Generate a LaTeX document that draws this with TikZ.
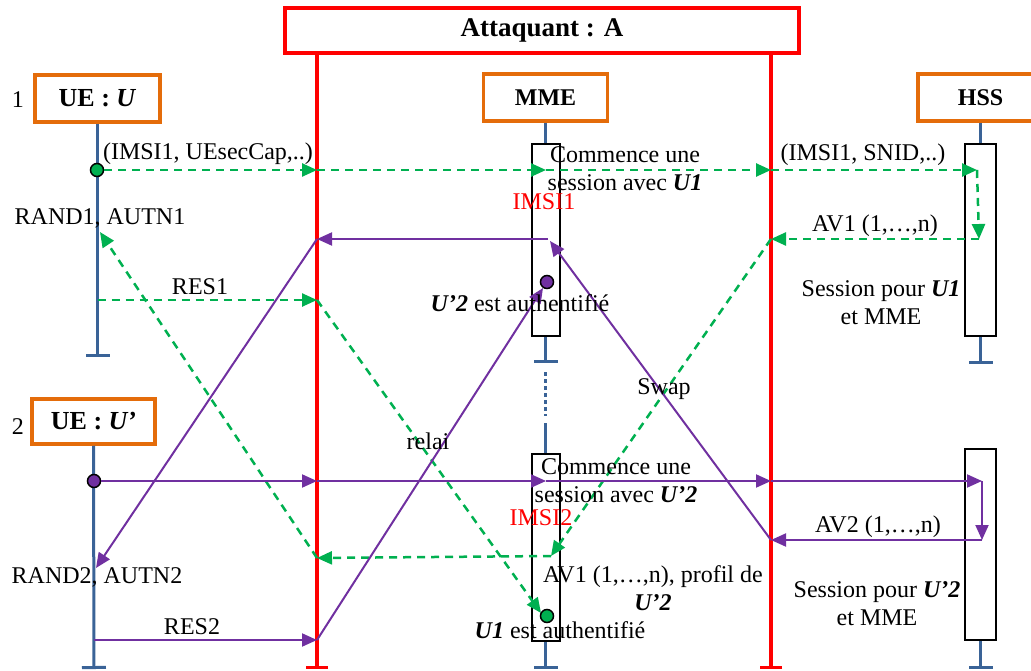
\documentclass[tikz,border=0pt]{standalone}
\usepackage{fontspec}
\setmainfont{Liberation Serif}
\usetikzlibrary{arrows.meta}
\definecolor{boxorange}{HTML}{E46C0A}
\definecolor{lifeblue}{HTML}{3A6397}
\definecolor{msggreen}{HTML}{00B050}
\definecolor{msgpurple}{HTML}{7030A0}
\newcommand{\usr}[1]{\textbf{\textit{#1}}}

\tikzset{
  actor/.style={draw=boxorange, line width=3.5pt, minimum height=47, inner sep=0pt, font=\fontsize{24}{28}\selectfont\bfseries},
  attbox/.style={draw=red, line width=3.5pt, minimum width=514, minimum height=45, inner sep=0pt, font=\fontsize{27}{30}\selectfont\bfseries},
  lifeline/.style={draw=lifeblue, line width=3pt},
  attline/.style={draw=red, line width=3.5pt, -{Bar[width=22pt]}},
  actbox/.style={draw=black, line width=2pt, fill=white, inner sep=0pt},
  msgG/.style={draw=msggreen, line width=2.5pt, dash pattern=on 8pt off 6pt, -{Triangle[length=15pt,width=13pt]}},
  msgP/.style={draw=msgpurple, line width=2pt, -{Triangle[length=15pt,width=13pt]}},
  dot/.style={circle, draw=black, line width=1.5pt, minimum size=13, inner sep=0pt},
  lbl/.style={inner sep=0pt, align=center}
}

\begin{document}
\begin{tikzpicture}[x=1pt, y=-1pt, font=\fontsize{24}{28}\selectfont]
  \useasboundingbox (0,0) rectangle (1031,671);

  % Actors
  \node[attbox] (att) at (542,30.5) {Attaquant : A};
  \node[actor, minimum width=125, font=\fontsize{26}{28}\selectfont\bfseries] (ue1) at (97.5,98.5) {UE : \textit{U}};
  \node[actor, minimum width=124] (mme) at (545.5,97.5) {MME};
  \node[actor, minimum width=125] (hss) at (980.5,97.5) {HSS};
  \node[actor, minimum width=123, minimum height=45, font=\fontsize{26}{28}\selectfont\bfseries] (ue2) at (93.5,421.5) {UE : \textit{U’}};
  \node[lbl] (n1) at (18,100) {1};
  \node[lbl] (n2) at (18,427) {2};

  % Lifelines
  \coordinate (ue1end) at (97.5,357);
  \coordinate (ue2end) at (94,669);
  \draw[lifeline, -{Bar[width=24pt]}] (ue1.south) -- (ue1end);
  \draw[lifeline, -{Bar[width=24pt]}] (ue2.south) -- (ue2end);

  \node[actbox, minimum width=28, minimum height=192] (mmeA) at (545.5,240) {};
  \node[actbox, minimum width=28, minimum height=187] (mmeB) at (545.5,547.5) {};
  \node[actbox, minimum width=31, minimum height=192] (hssA) at (980.5,240) {};
  \node[actbox, minimum width=31, minimum height=191] (hssB) at (980.5,544.5) {};
  \coordinate (mmeEnd1) at (545.5,363);
  \coordinate (mmeDot1) at (545.5,372);
  \coordinate (mmeDot2) at (545.5,416);
  \coordinate (mmeRes) at (545.5,423);
  \coordinate (mmeEnd2) at (545.5,669);
  \coordinate (hssEnd1) at (980.5,364);
  \coordinate (hssEnd2) at (980.5,669);
  \draw[lifeline] (mme.south) -- (mmeA.north);
  \draw[lifeline, -{Bar[width=24pt]}] (mmeA.south) -- (mmeEnd1);
  \draw[lifeline, dash pattern=on 4pt off 3pt] (mmeDot1) -- (mmeDot2);
  \draw[lifeline] (mmeRes) -- (mmeB.north);
  \draw[lifeline, -{Bar[width=24pt]}] (mmeB.south) -- (mmeEnd2);
  \draw[lifeline] (hss.south) -- (hssA.north);
  \draw[lifeline, -{Bar[width=24pt]}] (hssA.south) -- (hssEnd1);
  \draw[lifeline, -{Bar[width=24pt]}] (hssB.south) -- (hssEnd2);

  % Attacker lines
  \coordinate (a1top) at (317,53);
  \coordinate (a1end) at (317,669);
  \coordinate (a2top) at (771,53);
  \coordinate (a2end) at (771,669);
  \draw[attline] (a1top) -- (a1end);
  \draw[attline] (a2top) -- (a2end);

  % Session 1 (green)
  \node[dot, fill=msggreen] (dotU1) at (97,170) {};
  \coordinate (g1a) at (317,170);
  \coordinate (g1m) at (546,170);
  \coordinate (g1b) at (771,170);
  \coordinate (g1h) at (977,170);
  \coordinate (g2h) at (979,239);
  \coordinate (g2b) at (771,239);
  \coordinate (g3m) at (551,556);
  \coordinate (g3a) at (317,558);
  \coordinate (g3u) at (100,232);
  \coordinate (r1u) at (97.5,300);
  \coordinate (r1a) at (317,300);
  \coordinate (r1m) at (541,613);
  \foreach \s/\t in {dotU1/g1a, g1a/g1m, g1m/g1b, g1b/g1h, g1h/g2h, g2h/g2b,
                     g2b/g3m, g3m/g3a, g3a/g3u, r1u/r1a, r1a/r1m}
    \draw[msgG] (\s) -- (\t);

  % Session 2 (purple)
  \node[dot, fill=msgpurple] (dotU2) at (94,481) {};
  \coordinate (p1a) at (317,481);
  \coordinate (p1m) at (546,481);
  \coordinate (p1b) at (771,481);
  \coordinate (p1h) at (982,481);
  \coordinate (p2h) at (982,540);
  \coordinate (p2b) at (771,540);
  \coordinate (p3m) at (550,241);
  \coordinate (p3s) at (548,239);
  \coordinate (p3a) at (317,239);
  \coordinate (p3u) at (96,568);
  \coordinate (r2u) at (94,640);
  \coordinate (r2a) at (317,640);
  \coordinate (r2m) at (543,288);
  \foreach \s/\t in {dotU2/p1a, p1a/p1m, p1m/p1b, p1b/p1h, p1h/p2h, p2h/p2b,
                     p2b/p3m, p3s/p3a, p3a/p3u, r2u/r2a, r2a/r2m}
    \draw[msgP] (\s) -- (\t);

  % Authentication points
  \node[dot, fill=msgpurple] (okU2) at (547,282) {};
  \node[dot, fill=msggreen] (okU1) at (547,616) {};

  % Labels
  \node[lbl] (lIMSI1) at (208,154) {(IMSI1, UEsecCap,..)};
  \node[lbl] (lStart1) at (625,169) {Commence une\\session avec \usr{U1}};
  \node[lbl, text=red] (lId1) at (544,202) {IMSI1};
  \node[lbl] (lSnid) at (863,155) {(IMSI1, SNID,..)};
  \node[lbl] (lAV1) at (875,226) {AV1 (1,…,n)};
  \node[lbl] (lRand1) at (100,218) {RAND1, AUTN1};
  \node[lbl] (lRes1) at (200,287) {RES1};
  \node[lbl] (lAuth2) at (520,303) {\usr{U’2} est authentifié};
  \node[lbl] (lSess1) at (881,303) {Session pour \usr{U1}\\et MME};
  \node[lbl] (lSwap) at (664,389) {Swap};
  \node[lbl] (lRelai) at (428,441) {relai};
  \node[lbl] (lStart2) at (616,481) {Commence une\\session avec \usr{U’2}};
  \node[lbl, text=red] (lId2) at (541,518) {IMSI2};
  \node[lbl] (lAV2) at (878,527) {AV2 (1,…,n)};
  \node[lbl] (lRand2) at (97,577) {RAND2, AUTN2};
  \node[lbl] (lProf) at (653,588) {AV1 (1,…,n), profil de\\\usr{U’2}};
  \node[lbl] (lSess2) at (877,604) {Session pour \usr{U’2}\\et MME};
  \node[lbl] (lRes2) at (192,627) {RES2};
  \node[lbl] (lAuth1) at (560,630) {\usr{U1} est authentifié};
\end{tikzpicture}
\end{document}
